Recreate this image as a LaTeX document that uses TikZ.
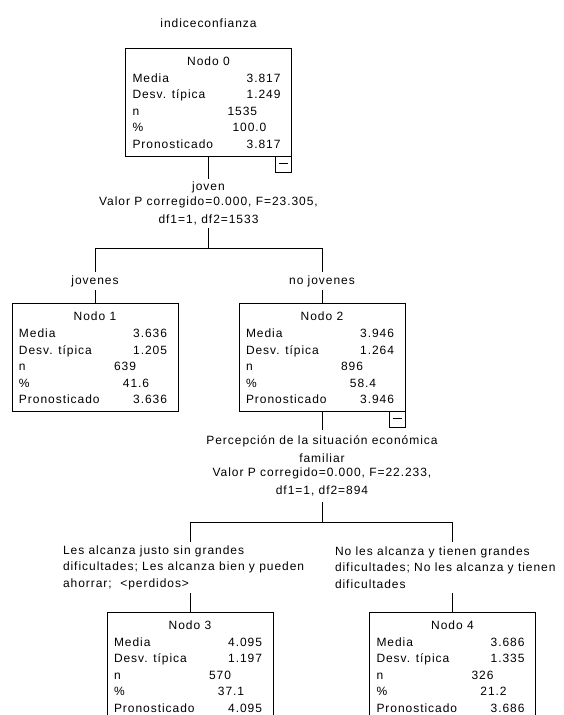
\documentclass[tikz,border=0pt]{standalone}
\usepackage{fontspec}
\setmainfont{Liberation Sans}[LetterSpace=8]
\usetikzlibrary{calc}
\tikzset{
  every node/.style={font=\fontsize{12}{16.5}\selectfont, inner sep=0pt, outer sep=0pt},
  box/.style={draw, line width=0.9pt, minimum width=166pt, minimum height=108pt, anchor=north},
  minbox/.style={draw, line width=0.9pt, minimum size=16pt, anchor=north east,
    path picture={\draw[line width=0.9pt] ([xshift=-4.5pt,yshift=1pt]path picture bounding box.center) -- ([xshift=4.5pt,yshift=1pt]path picture bounding box.center);}},
  conn/.style={line width=0.9pt},
  splitlbl/.style={align=center},
  brlbl/.style={align=left, anchor=west},
}
\newcommand\mybox[9]{%
  \node[box] (#1) at (#2,#3) {};
  \node[anchor=base] (#1-t) at ($(#1.north)+(0,17)$) {Nodo #4};
  \node[anchor=base west] (#1-l1) at ($(#1.north west)+(7,34)$) {Media};
  \node[anchor=base east] (#1-v1) at ($(#1.north east)+(-11,34)$) {#5};
  \node[anchor=base west] (#1-l2) at ($(#1.north west)+(7,50.5)$) {Desv. típica};
  \node[anchor=base east] (#1-v2) at ($(#1.north east)+(-11,50.5)$) {#6};
  \node[anchor=base west] (#1-l3) at ($(#1.north west)+(7,67)$) {n};
  \node[anchor=base west] (#1-v3) at ($(#1.north west)+(102,67)$) {#7};
  \node[anchor=base west] (#1-l4) at ($(#1.north west)+(7,83.5)$) {\%};
  \node[anchor=base] (#1-v4) at ($(#1.north west)+(124,83.5)$) {#8};
  \node[anchor=base west] (#1-l5) at ($(#1.north west)+(7,100)$) {Pronosticado};
  \node[anchor=base east] (#1-v5) at ($(#1.north east)+(-11,100)$) {#9};
}
\begin{document}
\begin{tikzpicture}[x=1pt,y=-1pt]
\useasboundingbox (0,0) rectangle (564,715);
\clip (0,0) rectangle (564,715);
\fill[white] (0,0) rectangle (564,715);

\node (title) at (208.5,23) {indiceconfianza};

% Node 0
\mybox{n0}{208.5}{48}{0}{3.817}{1.249}{1535}{100.0}{3.817}
\node[minbox] (n0m) at (n0.south east) {};
\node[splitlbl, minimum height=49pt] (s0) at (208.5,203.5)
  {joven\\[-1.5pt]Valor P corregido=0.000, F=23.305,\\[1pt]df1=1, df2=1533};
\coordinate (j0) at (208.5,248);
\draw[conn] (n0.south) -- (s0.north);
\draw[conn] (s0.south) -- (j0);

% Branch labels level 1
\node[minimum height=18pt] (b1) at (95,281) {jovenes};
\node[minimum height=18pt] (b2) at (322,281) {no jovenes};
\draw[conn] (b1.north) -- (b1.north |- j0) -- (b2.north |- j0) -- (b2.north);

% Nodes 1 and 2
\mybox{n1}{95}{303.5}{1}{3.636}{1.205}{639}{41.6}{3.636}
\mybox{n2}{322}{303.5}{2}{3.946}{1.264}{896}{58.4}{3.946}
\draw[conn] (b1.south) -- (n1.north);
\draw[conn] (b2.south) -- (n2.north);
\node[minbox] (n2m) at (n2.south east) {};

% Split of node 2
\node[splitlbl, minimum height=72pt] (s2) at (322,466)
  {Percepción de la situación económica\\[1.5pt]familiar\\[-2.5pt]Valor P corregido=0.000, F=22.233,\\[1.5pt]df1=1, df2=894};
\coordinate (j2) at (322,522);
\draw[conn] (n2.south) -- (s2.north);
\draw[conn] (s2.south) -- (j2);

% Branch labels level 2
\node[brlbl, minimum height=51pt] (b3) at (63,567.5)
  {Les alcanza justo sin grandes\\dificultades; Les alcanza bien y pueden\\ahorrar;\ \ {<}perdidos{>}};
\node[brlbl, minimum height=51pt] (b4) at (335,567.5)
  {No les alcanza y tienen grandes\\dificultades; No les alcanza y tienen\\dificultades};

% Nodes 3 and 4
\mybox{n3}{190}{612}{3}{4.095}{1.197}{570}{37.1}{4.095}
\mybox{n4}{452.5}{612}{4}{3.686}{1.335}{326}{21.2}{3.686}

\draw[conn] (n3.north |- b3.north) -- (n3.north |- j2) -- (n4.north |- j2) -- (n4.north |- b4.north);
\draw[conn] (n3.north |- b3.south) -- (n3.north);
\draw[conn] (n4.north |- b4.south) -- (n4.north);
\end{tikzpicture}
\end{document}
